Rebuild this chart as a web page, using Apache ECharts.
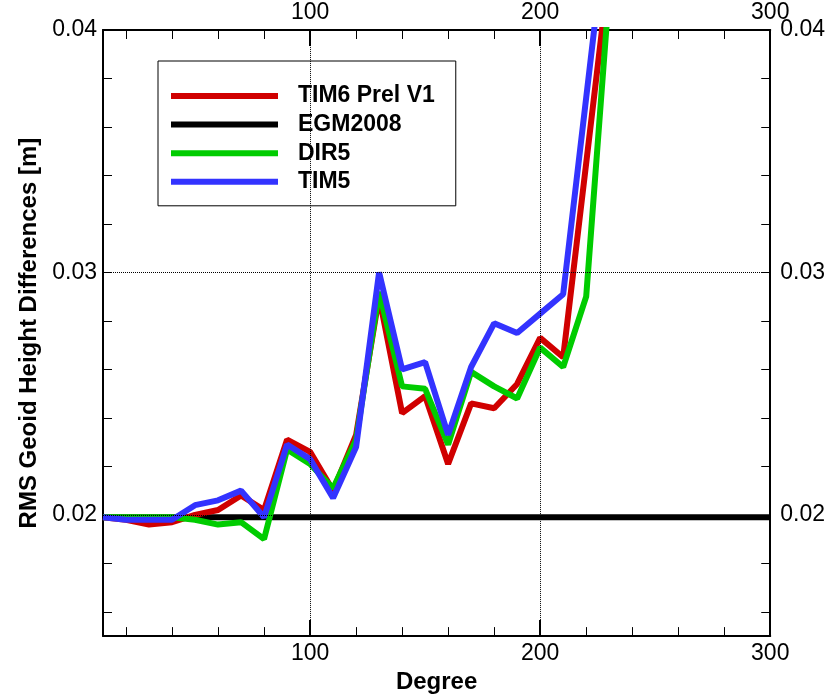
<!DOCTYPE html>
<html>
<head>
<meta charset="utf-8">
<script src="https://cdn.jsdelivr.net/npm/echarts@6/dist/echarts.min.js"></script>
<style>
  html, body { margin: 0; padding: 0; background: #fff; }
  #chart { width: 828px; height: 699px; }
</style>
</head>
<body>
<div id="chart"></div>
<script>
// degree axis and values
const degrees = [10, 20, 30, 40, 50, 60, 70, 80, 90, 100, 110, 120, 130, 140, 150, 160, 170, 180, 190, 200, 210, 220, 230];
const tim6 = [0.0199, 0.0198, 0.0196, 0.0197, 0.0200, 0.0202, 0.0208, 0.0202, 0.0231, 0.0226, 0.0210, 0.0233, 0.0290, 0.0242, 0.0249, 0.0221, 0.0246, 0.0244, 0.0254, 0.0273, 0.0265, 0.0345, 0.0425];
const dir5 = [0.0199, 0.0199, 0.0199, 0.0199, 0.0198, 0.0196, 0.0197, 0.0190, 0.0227, 0.0221, 0.0211, 0.0231, 0.0292, 0.0253, 0.0252, 0.0229, 0.0259, 0.0253, 0.0248, 0.0269, 0.0261, 0.0290, 0.0416];
const tim5 = [0.0199, 0.0198, 0.0198, 0.0198, 0.0204, 0.0206, 0.0210, 0.0199, 0.0229, 0.0223, 0.0207, 0.0228, 0.0300, 0.0260, 0.0263, 0.0233, 0.0261, 0.0279, 0.0275, 0.0283, 0.0291, 0.0372, 0.0453];
const egmDegrees = [10, 300];
const egm2008 = [0.0199, 0.0199];

// ticks
const xMajor = [100, 200, 300];
const xMajorTicks = [100, 200];
const xMinor = [20, 40, 60, 80, 100, 120, 140, 160, 180, 200, 220, 240, 260, 280];
const yMajor = [0.02, 0.03, 0.04];
const yMinor = [0.016, 0.018, 0.02, 0.022, 0.024, 0.026, 0.028, 0.03, 0.032, 0.034, 0.036, 0.038];
const xGrid = [100, 200];
const yGrid = [0.02, 0.03];

const font = '"Liberation Sans", Arial, sans-serif';

function pairs(xs, ys) {
  return xs.map((x, i) => [x, ys[i]]);
}

let chart = echarts.init(document.getElementById('chart'));

function xAxisOf(pos, ticks, len, width, labels, line) {
  return {
    type: 'value',
    position: pos,
    min: 10,
    max: 300,
    axisLine: { show: line, onZero: false, lineStyle: { color: '#000', width: 2 } },
    axisTick: { show: true, inside: true, length: len, customValues: ticks, lineStyle: { color: '#000', width: width } },
    axisLabel: {
      show: labels,
      customValues: xMajor,
      margin: 6,
      color: '#000',
      fontFamily: font,
      fontSize: 23
    },
    splitLine: { show: false }
  };
}

function yAxisOf(pos, margin) {
  return {
    type: 'value',
    position: pos,
    min: 0.015,
    max: 0.04,
    axisLine: { show: true, onZero: false, lineStyle: { color: '#000', width: 2 } },
    axisTick: { show: true, inside: true, length: 9, customValues: yMinor, lineStyle: { color: '#000', width: 1 } },
    axisLabel: {
      customValues: yMajor,
      margin: margin,
      color: '#000',
      fontFamily: font,
      fontSize: 23
    },
    splitLine: { show: false }
  };
}

let bottom = xAxisOf('bottom', xMinor, 9, 1, true, true);
bottom.name = 'Degree';
bottom.nameLocation = 'middle';
bottom.nameGap = 31;
bottom.nameTextStyle = { color: '#000', fontFamily: font, fontSize: 24, fontWeight: 'bold' };

let left = yAxisOf('left', 6);
left.name = 'RMS Geoid Height Differences [m]';
left.nameLocation = 'middle';
left.nameGap = 62;
left.nameTextStyle = { color: '#000', fontFamily: font, fontSize: 24, fontWeight: 'bold' };

let option = {
  backgroundColor: '#fff',
  animation: false,
  grid: { left: 103, right: 57, top: 30, bottom: 55, containLabel: false },
  legend: {
    data: ['TIM6 Prel V1', 'EGM2008', 'DIR5', 'TIM5'],
    orient: 'vertical',
    left: 158,
    top: 61,
    icon: 'rect',
    itemWidth: 107,
    itemHeight: 6,
    itemGap: 5.6,
    padding: [23.5, 21, 12.5, 13],
    backgroundColor: '#fff',
    borderColor: '#000',
    borderWidth: 1,
    selectedMode: false,
    textStyle: {
      color: '#000',
      fontFamily: font,
      fontSize: 23,
      fontWeight: 'bold',
      lineHeight: 23,
      padding: [0, 0, 0, 15]
    }
  },
  xAxis: [
    bottom,
    xAxisOf('bottom', xMajorTicks, 16, 2, false, false),
    xAxisOf('top', xMinor, 9, 1, true, true),
    xAxisOf('top', xMajorTicks, 16, 2, false, false)
  ],
  yAxis: [left, yAxisOf('right', 10)],
  series: [
    {
      name: 'EGM2008',
      type: 'line',
      z: 1,
      symbol: 'none',
      color: '#000',
      lineStyle: { color: '#000', width: 6 },
      data: pairs(egmDegrees, egm2008),
      markLine: {
        silent: true,
        symbol: 'none',
        label: { show: false },
        lineStyle: { color: '#000', width: 1, type: 'dotted' },
        data: xGrid.map(v => ({ xAxis: v })).concat(yGrid.map(v => ({ yAxis: v })))
      }
    },
    {
      name: 'TIM6 Prel V1',
      type: 'line',
      z: 2,
      symbol: 'none',
      color: '#D00000',
      lineStyle: { color: '#D00000', width: 6 },
      data: pairs(degrees, tim6)
    },
    {
      name: 'DIR5',
      type: 'line',
      z: 3,
      symbol: 'none',
      color: '#00CC00',
      lineStyle: { color: '#00CC00', width: 6 },
      data: pairs(degrees, dir5)
    },
    {
      name: 'TIM5',
      type: 'line',
      z: 4,
      symbol: 'none',
      color: '#3333FF',
      lineStyle: { color: '#3333FF', width: 6 },
      data: pairs(degrees, tim5)
    }
  ]
};

chart.setOption(option);
window.onresize = function () {
  chart.resize();
};
</script>
</body>
</html>
